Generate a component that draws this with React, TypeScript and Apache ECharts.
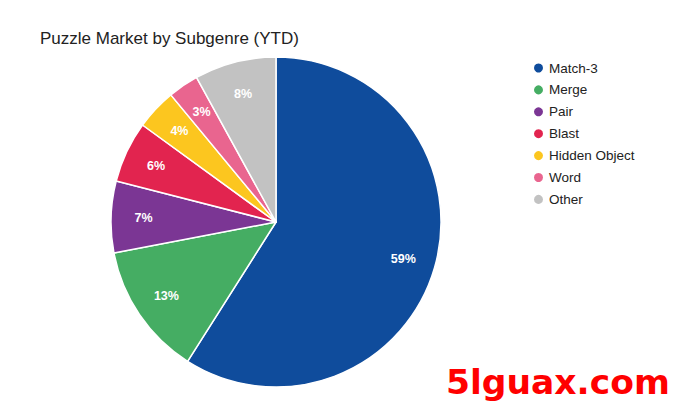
import React, { useEffect, useRef } from "react";
import * as echarts from "echarts";

const categories = ["Match-3", "Merge", "Pair", "Blast", "Hidden Object", "Word", "Other"];
const shares = [59, 13, 7, 6, 4, 3, 8];
const colors = ["#0f4c9c", "#45ad63", "#7b3694", "#e2244f", "#fcc61f", "#e9658f", "#c2c2c2"];
const titleText = "Puzzle Market by Subgenre (YTD)";
const watermark = "5lguax.com";

export default function App() {
  const ref = useRef<HTMLDivElement>(null);
  useEffect(() => {
    if (!ref.current) return;
    const chart = echarts.init(ref.current, undefined, { renderer: "svg" });
    const data = categories.map((name, i) => ({
      name,
      value: shares[i],
      itemStyle: { color: colors[i] },
    }));
    chart.setOption({
      animation: false,
      backgroundColor: "#ffffff",
      title: {
        text: titleText,
        left: 35,
        top: 25,
        textStyle: { fontFamily: "Liberation Sans", fontSize: 17, fontWeight: "normal", color: "#222" },
      },
      legend: {
        orient: "vertical",
        left: 527,
        top: 56,
        icon: "circle",
        itemWidth: 11,
        itemHeight: 11,
        itemGap: 7.9,
        data: categories,
        textStyle: { fontFamily: "Liberation Sans", fontSize: 13.5, color: "#222" },
      },
      series: [
        {
          type: "pie",
          name: "share",
          center: [276, 222],
          radius: [0, 165],
          startAngle: 90,
          clockwise: true,
          label: { show: false },
          labelLine: { show: false },
          itemStyle: { borderColor: "#ffffff", borderWidth: 1.5 },
          emphasis: { disabled: true },
          data,
        },
        {
          type: "pie",
          name: "labels",
          center: [276, 222],
          radius: [94, 165],
          startAngle: 90,
          clockwise: true,
          silent: true,
          legendHoverLink: false,
          itemStyle: { color: "rgba(0,0,0,0)", borderWidth: 0 },
          label: {
            show: true,
            position: "inside",
            formatter: "{c}%",
            color: "#ffffff",
            fontFamily: "Liberation Sans",
            fontSize: 12.5,
            fontWeight: "bold",
          },
          labelLine: { show: false },
          emphasis: { disabled: true },
          data: categories.map((name, i) => ({ name: name + " ", value: shares[i] })),
        },
      ],
      graphic: [
        {
          type: "text",
          left: 446,
          top: 364,
          style: {
            text: watermark,
            fill: "#ff0000",
            font: "bold 34.5px 'DejaVu Sans'",
          },
        },
      ],
    });
    return () => chart.dispose();
  }, []);
  return <div ref={ref} style={{ position: "fixed", left: 0, top: 0, width: 673, height: 413 }} />;
}
